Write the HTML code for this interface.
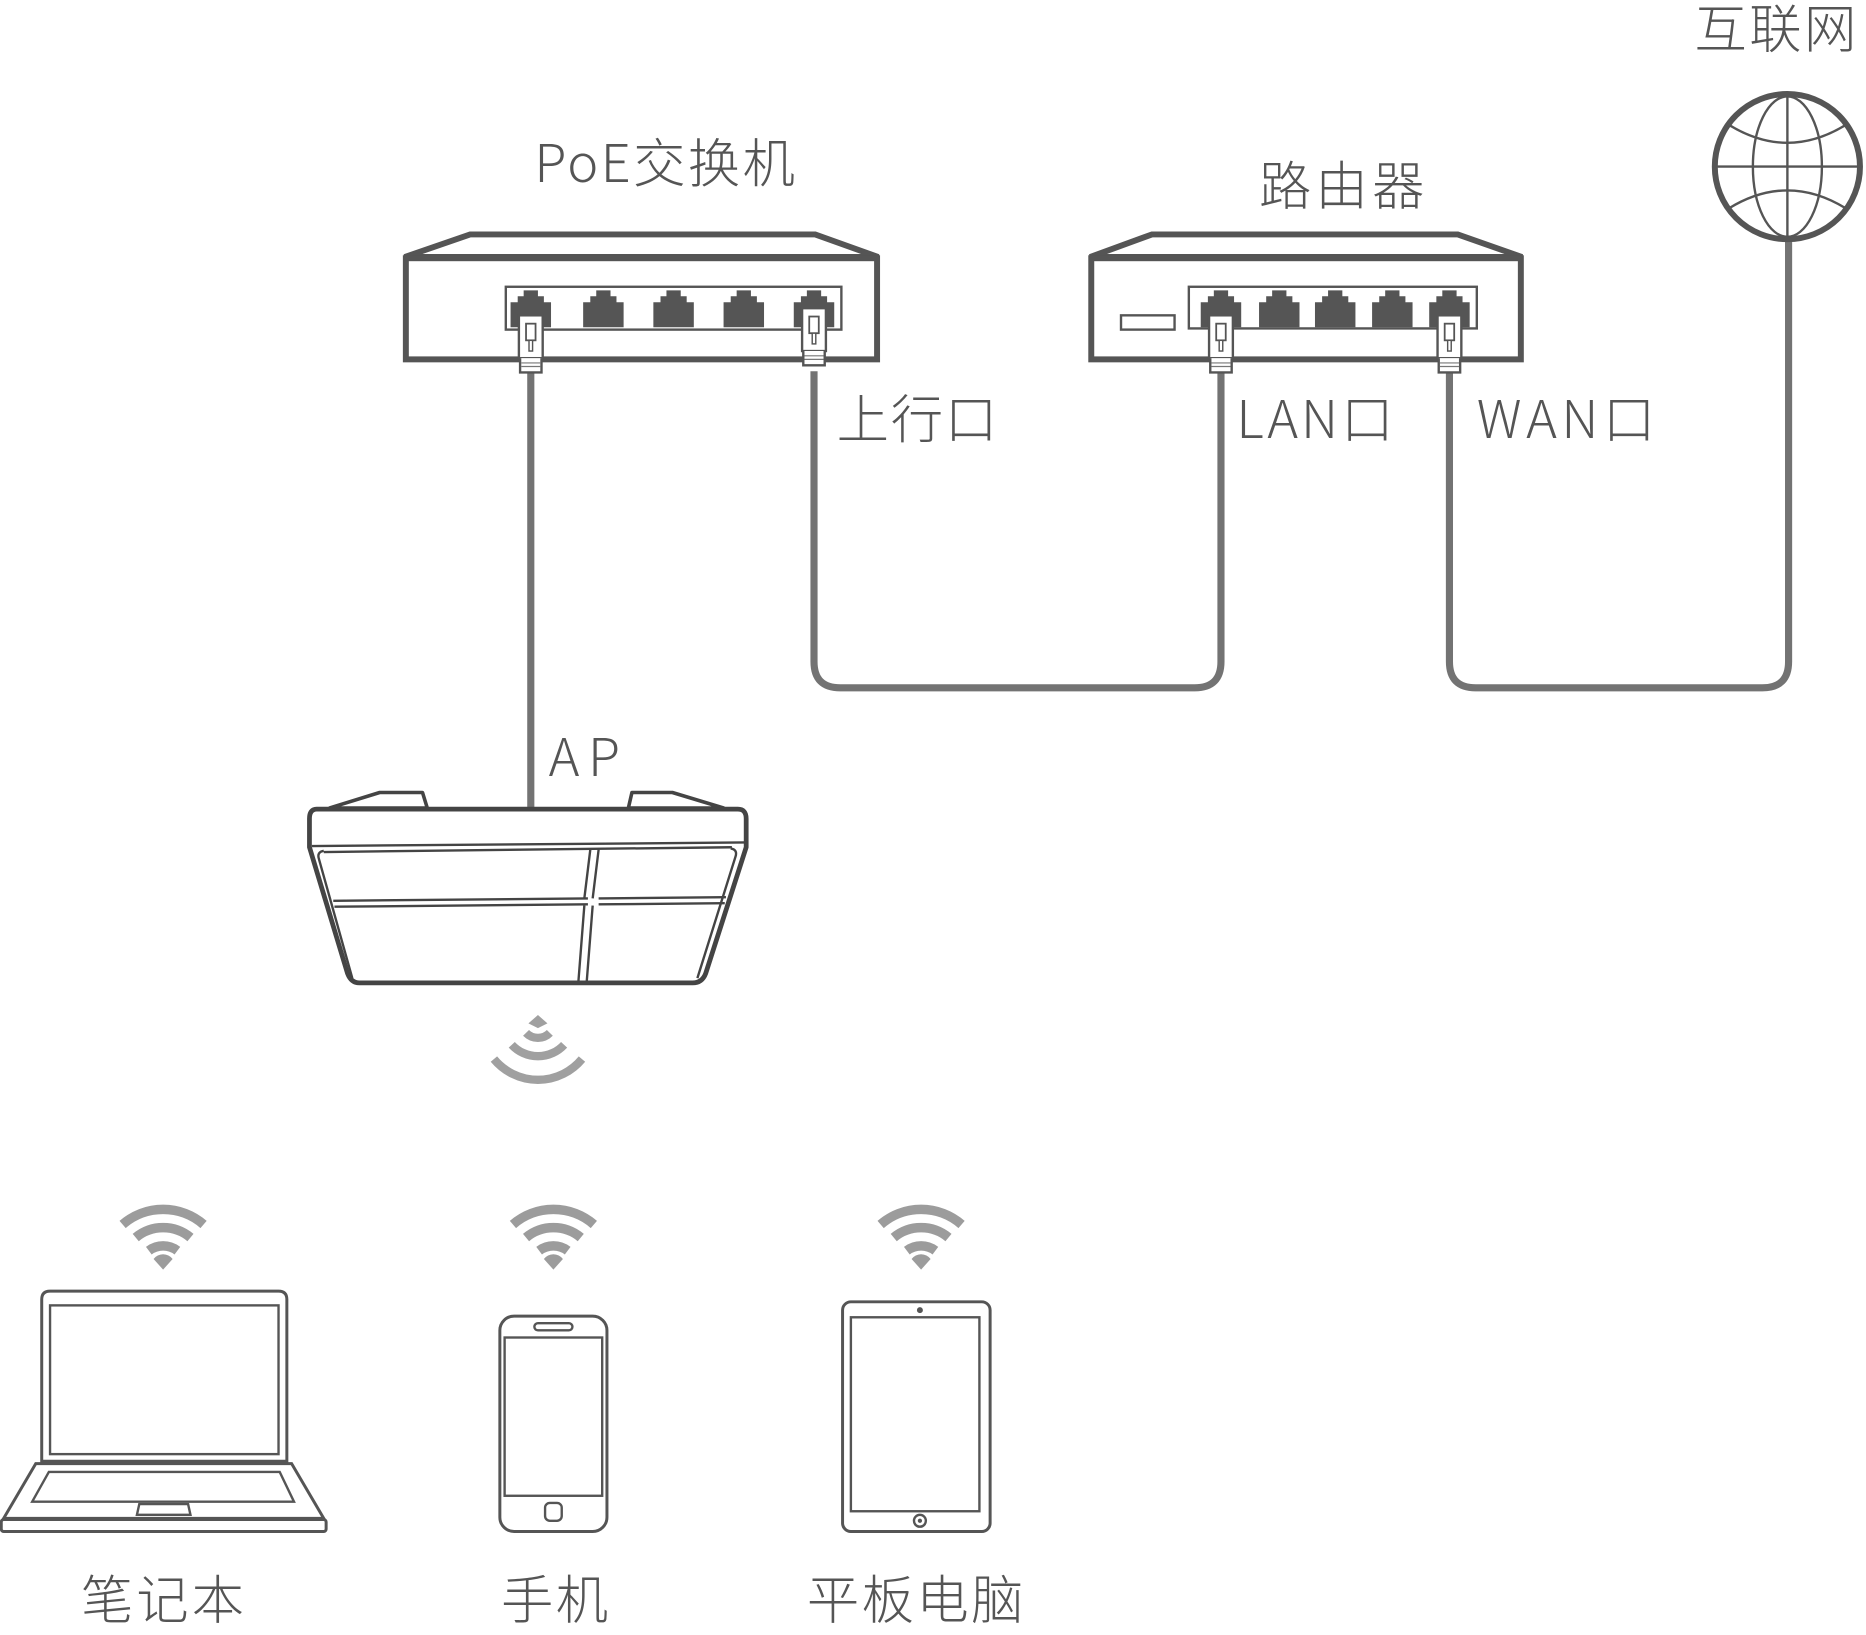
<!DOCTYPE html>
<html><head><meta charset="utf-8">
<style>
html,body{margin:0;padding:0;background:#fff;}
svg{display:block;}
text{font-family:"Noto Sans CJK SC","Liberation Sans",sans-serif;font-weight:300;fill:#555;}
</style></head>
<body>
<svg width="1866" height="1635" viewBox="0 0 1568 1374" xmlns="http://www.w3.org/2000/svg">
<defs>
  <path id="port" d="M-6,0 H6 V5 H11 V10 H17 V31 H-17 V10 H-11 V5 H-6 Z" fill="#555"/>
  <g id="plug">
    <rect x="-10" y="265" width="20" height="36" fill="#fff" stroke="#555" stroke-width="2"/>
    <rect x="-4" y="272" width="8" height="14" fill="#fff" stroke="#555" stroke-width="1.5"/>
    <rect x="-1.5" y="286" width="3" height="9" fill="#fff" stroke="#555" stroke-width="1.2"/>
    <path d="M-9,301 V313 H9 V301" fill="#fff" stroke="#555" stroke-width="2"/>
    <line x1="-8" y1="305" x2="8" y2="305" stroke="#777" stroke-width="1"/>
    <line x1="-8" y1="308" x2="8" y2="308" stroke="#777" stroke-width="1"/>
  </g>
  <g id="wifiUp" fill="none" stroke="#9c9c9c" stroke-width="8">
    <path d="M-12,-16 A20,20 0 0 1 12,-16"/>
    <path d="M-23,-27 A36,36 0 0 1 23,-27"/>
    <path d="M-34,-38 A52,52 0 0 1 34,-38"/>
    <path d="M0,0 L-8,-9 A10,10 0 0 1 8,-9 Z" fill="#9c9c9c" stroke="none"/>
  </g>
</defs>

<g fill="none" stroke="#737373" stroke-width="6">
  <line x1="446" y1="312" x2="446" y2="680"/>
  <path d="M684,312 V556 Q684,578 706,578 H1004 Q1026,578 1026,556 V312"/>
  <path d="M1218,312 V556 Q1218,578 1240,578 H1481 Q1503,578 1503,556 V200"/>
</g>

<g stroke="#555" fill="#fff">
  <path d="M340,216 L395,197 H685 L738,216 Z" stroke-width="5"/>
  <line x1="343" y1="216" x2="735" y2="216" stroke-width="2"/>
  <rect x="341" y="217" width="396" height="85" stroke-width="5"/>
  <rect x="425" y="241" width="282" height="36" stroke-width="2"/>
</g>
<use href="#port" x="446" y="244"/><use href="#port" x="507" y="244"/><use href="#port" x="566" y="244"/><use href="#port" x="625" y="244"/><use href="#port" x="684" y="244"/>
<use href="#plug" x="446" y="0"/><use href="#plug" x="684" y="-6"/>

<g stroke="#555" fill="#fff">
  <path d="M916,216 L968,197 H1225 L1279,216 Z" stroke-width="5"/>
  <line x1="919" y1="216" x2="1276" y2="216" stroke-width="2"/>
  <rect x="917" y="217" width="361" height="85" stroke-width="5"/>
  <rect x="999" y="241" width="242" height="35" stroke-width="2"/>
  <rect x="942" y="265" width="45" height="12" stroke-width="2"/>
</g>
<use href="#port" x="1026" y="244"/><use href="#port" x="1075" y="244"/><use href="#port" x="1122" y="244"/><use href="#port" x="1170" y="244"/><use href="#port" x="1218" y="244"/>
<use href="#plug" x="1026" y="0"/><use href="#plug" x="1218" y="0"/>

<g fill="none" stroke="#555">
  <circle cx="1502" cy="140" r="61" fill="#fff" stroke-width="5"/>
  <ellipse cx="1502" cy="140" rx="29" ry="59" stroke-width="2"/>
  <line x1="1502" y1="81" x2="1502" y2="199" stroke-width="2"/>
  <line x1="1443" y1="140" x2="1561" y2="140" stroke-width="2"/>
  <path d="M1453,105 Q1502,135 1551,105" stroke-width="2"/>
  <path d="M1453,175 Q1502,145 1551,175" stroke-width="2"/>
</g>

<text x="1424" y="40" font-size="44" textLength="136">互联网</text>
<text x="449" y="153" font-size="44" textLength="219">PoE交换机</text>
<text x="1058" y="172" font-size="44" textLength="139">路由器</text>
<text x="703" y="368" font-size="44" textLength="135">上行口</text>
<text x="1039" y="368" font-size="44" textLength="132">LAN口</text>
<text x="1241" y="368" font-size="44" textLength="150">WAN口</text>
<text x="461" y="652" font-size="44" textLength="60">AP</text>

<g stroke="#444" fill="#fff" stroke-linejoin="round">
  <path d="M277,679 L319,666 H355 L359,679 Z" stroke-width="3"/>
  <path d="M528,679 L531,666 H565 L608,679 Z" stroke-width="3"/>
  <path d="M266,680 H620 Q627,680 627,688 V712 L593,818 Q590,826 582,826 H302 Q295,826 292,818 L260,712 V688 Q260,680 266,680 Z" stroke-width="4"/>
  <path d="M262,711 L626,708" stroke-width="2" fill="none"/>
  <path d="M272,715 Q266,716 268,722 L296,822" stroke-width="2" fill="none"/>
  <path d="M614,713 Q620,714 618,720 L586,822" stroke-width="2" fill="none"/>
  <path d="M272,716 L615,712" stroke-width="2" fill="none"/>
  <path d="M280,757 L494,755 M503,755 L610,754" stroke-width="2" fill="none"/>
  <path d="M281,762 L494,760 M503,760 L609,759" stroke-width="2" fill="none"/>
  <path d="M496,714 L491,755 M503,714 L498,755" stroke-width="2" fill="none"/>
  <path d="M491,761 L486,825 M498,761 L493,825" stroke-width="2" fill="none"/>
</g>

<g fill="none" stroke="#a0a0a0" stroke-width="7">
  <path d="M442,868 A14,14 0 0 0 462,868"/>
  <path d="M430,878 A30,30 0 0 0 474,878"/>
  <path d="M415,890 A48,48 0 0 0 489,890"/>
</g>
<path d="M452,853 L444,860 L452,864 L460,860 Z" fill="#a0a0a0"/>

<use href="#wifiUp" x="137" y="1067"/>
<use href="#wifiUp" x="465" y="1067"/>
<use href="#wifiUp" x="774" y="1067"/>

<g stroke="#555" fill="#fff" stroke-width="2.5">
  <path d="M35,1228 V1092 Q35,1085 42,1085 H234 Q241,1085 241,1092 V1228 Z"/>
  <rect x="42" y="1097" width="192" height="125" stroke-width="2"/>
  <path d="M30,1230 H245 L272,1276 H3 Z"/>
  <path d="M41,1237 H235 L247,1262 H27 Z" stroke-width="2"/>
  <path d="M117,1264 H158 L160,1273 H115 Z" stroke-width="2"/>
  <rect x="1" y="1277" width="273" height="10" rx="2"/>
</g>

<g stroke="#555" fill="#fff" stroke-width="2.5">
  <rect x="420" y="1106" width="90" height="181" rx="12"/>
  <rect x="449" y="1112" width="32" height="6" rx="3" stroke-width="2"/>
  <rect x="424" y="1124" width="82" height="133" stroke-width="2"/>
  <rect x="458" y="1263" width="14" height="15" rx="4" stroke-width="2"/>
</g>

<g stroke="#555" fill="#fff" stroke-width="2.5">
  <rect x="708" y="1094" width="124" height="193" rx="7"/>
  <rect x="715" y="1107" width="108" height="163" stroke-width="2"/>
  <circle cx="773" cy="1278" r="5" stroke-width="2"/>
</g>
<circle cx="773" cy="1101" r="2.5" fill="#555"/>
<circle cx="773" cy="1278" r="1.8" fill="#555"/>

<text x="68" y="1360" font-size="44" textLength="137">笔记本</text>
<text x="421" y="1360" font-size="44" textLength="90">手机</text>
<text x="678" y="1360" font-size="44" textLength="182">平板电脑</text>
</svg>
</body></html>
